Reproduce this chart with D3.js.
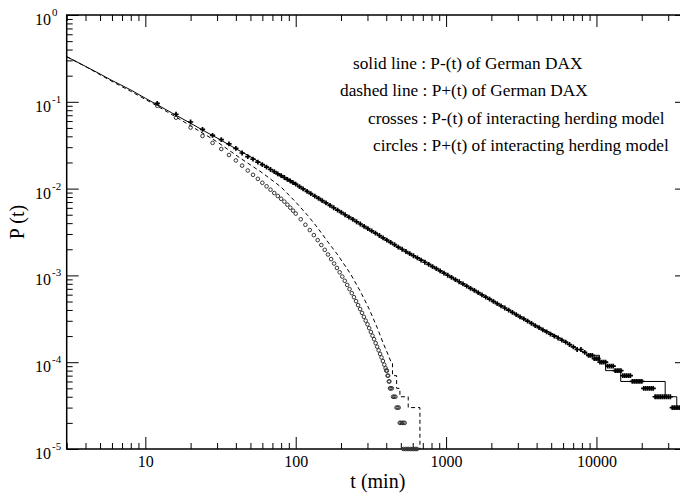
<!DOCTYPE html>
<html>
<head>
<meta charset="utf-8">
<script src="https://cdn.jsdelivr.net/npm/d3@7"></script>
<style>
    body { margin: 0; background: #fff; }
</style>
</head>
<body>
<div id="chart"></div>
<script>
'use strict';

// solid line : P-(t) of German DAX
const solidT = [3, 4, 5, 6, 8, 10, 12, 15, 20, 25, 30, 40, 50, 60, 70, 85, 100, 120, 150, 200,
    250, 300, 400, 500, 700, 1000, 1500, 2000, 3000, 4000, 4500, 5000, 5500, 6000, 7000, 8000,
    8640, 8640, 10470, 10470, 11500, 11500, 14500, 14500, 28640, 28640, 34200, 34200, 40000];
const solidP = [0.331, 0.256, 0.209, 0.176, 0.137, 0.110, 0.0925, 0.0745, 0.0566, 0.0455,
    0.0383, 0.0288, 0.0233, 0.0192, 0.0163, 0.0133, 0.01122, 9.25e-3, 7.29e-3, 5.36e-3,
    4.25e-3, 3.48e-3, 2.57e-3, 2.02e-3, 1.49e-3, 1.03e-3, 6.9e-4, 5.19e-4, 3.46e-4, 2.6e-4,
    2.35e-4, 2.16e-4, 1.98e-4, 1.78e-4, 1.5e-4, 1.34e-4, 1.26e-4, 1.2e-4, 1.2e-4, 1e-4,
    1e-4, 8e-5, 8e-5, 6e-5, 6e-5, 4e-5, 4e-5, 3e-5, 3e-5];

// dashed line : P+(t) of German DAX
const dashedT = [3, 4, 6, 8, 12, 16, 20, 30, 43, 60, 80, 100, 120, 140, 160, 190, 230, 270, 310,
    350, 382, 410, 434, 440, 440, 469, 469, 493, 493, 560, 560, 670, 670];
const dashedP = [0.331, 0.255, 0.172, 0.132, 0.0895, 0.0668, 0.0528, 0.0346, 0.0223, 0.0152,
    0.0104, 7.0e-3, 4.92e-3, 3.53e-3, 2.56e-3, 1.73e-3, 1.06e-3, 6.48e-4, 4.0e-4, 2.45e-4,
    1.65e-4, 1.24e-4, 9.7e-5, 9.7e-5, 7e-5, 7e-5, 5e-5, 5e-5, 4e-5, 4e-5, 3e-5, 3e-5, 1e-5];

// crosses : P-(t) of interacting herding model
const crossT = [12, 16, 20, 24, 28, 32, 36, 40, 44, 48, 52, 56, 60, 64, 68, 72, 76, 80, 84, 88, 92, 96, 100,
    106, 112, 119, 126, 134, 142, 150, 159, 169, 179, 190, 201, 213, 226, 240, 254, 269, 285, 302,
    320, 339, 360, 381, 404, 428, 454, 481, 510, 541, 573, 607, 644, 682, 723, 767, 813, 861, 913,
    968, 1026, 1087, 1153, 1222, 1295, 1373, 1455, 1542, 1635, 1733, 1837, 1947, 2064, 2188, 2319,
    2458, 2606, 2762, 2928, 3104, 3290, 3487, 3697, 3918, 4153, 4403, 4667, 4947, 5243, 5558, 5891,
    6245, 6620, 7017, 7438, 7884, 8357, 8858, 9120, 9390, 9670, 9953, 10250, 10550, 10860, 11180,
    11510, 11850, 12200, 12560, 12930, 13320, 13730, 14120, 14550, 14960, 15420, 15860, 16340,
    16810, 17320, 17820, 18350, 18890, 19450, 20020, 20610, 21220, 21850, 22500, 23170, 23850,
    24550, 25280, 26030, 26790, 27590, 28400, 29240, 30100, 31000, 31910, 32860, 33830, 34830, 35860];
const crossP = [0.0958, 0.0719, 0.0585, 0.0480, 0.0411, 0.0366, 0.0327, 0.0290, 0.0257, 0.0233,
    0.0219, 0.0202, 0.0189, 0.0177, 0.0166, 0.01565, 0.0148, 0.0141, 0.01342, 0.0128, 0.01225,
    0.01172, 0.01125,
    1.052e-2, 9.91e-3, 9.29e-3, 8.73e-3, 8.21e-3, 7.71e-3, 7.27e-3, 6.83e-3, 6.40e-3, 6.02e-3,
    5.65e-3, 5.32e-3, 5.00e-3, 4.70e-3, 4.41e-3, 4.15e-3, 3.91e-3, 3.68e-3, 3.46e-3, 3.26e-3,
    3.07e-3, 2.88e-3, 2.71e-3, 2.55e-3, 2.40e-3, 2.26e-3, 2.12e-3, 2.00e-3, 1.885e-3, 1.78e-3,
    1.684e-3, 1.589e-3, 1.50e-3, 1.418e-3, 1.338e-3, 1.263e-3, 1.194e-3, 1.127e-3, 1.064e-3,
    1.004e-3, 9.48e-4, 8.94e-4, 8.45e-4, 7.97e-4, 7.52e-4, 7.10e-4, 6.71e-4, 6.32e-4, 5.97e-4,
    5.63e-4, 5.32e-4, 5.01e-4, 4.73e-4, 4.46e-4, 4.21e-4, 3.97e-4, 3.75e-4, 3.53e-4, 3.33e-4,
    3.15e-4, 2.97e-4, 2.80e-4, 2.64e-4, 2.50e-4, 2.36e-4, 2.23e-4, 2.11e-4, 2.0e-4, 1.9e-4,
    1.8e-4, 1.7e-4, 1.6e-4, 1.5e-4, 1.4e-4, 1.4e-4, 1.3e-4, 1.2e-4, 1.2e-4, 1.2e-4, 1.1e-4,
    1.1e-4, 1.1e-4, 1.0e-4, 1.0e-4, 1.0e-4, 1.0e-4, 9e-5, 9e-5, 9e-5, 9e-5, 8e-5, 8e-5, 8e-5,
    8e-5, 7e-5, 7e-5, 7e-5, 7e-5, 7e-5, 6e-5, 6e-5, 6e-5, 6e-5, 6e-5, 6e-5, 5e-5, 5e-5, 5e-5,
    5e-5, 5e-5, 5e-5, 4e-5, 4e-5, 4e-5, 4e-5, 4e-5, 4e-5, 4e-5, 4e-5, 4e-5, 3e-5, 3e-5, 3e-5,
    3e-5, 3e-5];

// circles : P+(t) of interacting herding model
const circleT = [12, 16, 20, 24, 28, 32, 36, 40, 44, 48, 52, 56, 60, 64, 68, 72, 76, 80, 84, 88, 92, 96, 100,
    108, 116, 124, 132, 140, 148, 156, 164, 172, 180, 188, 196, 204, 212, 220, 228, 236, 244, 252,
    260, 268, 276, 284, 292, 300, 308, 316, 324, 332, 340, 348, 356, 364, 372, 380, 388, 396,
    400, 404, 408, 412, 416, 420, 424, 428, 436, 444, 452, 460, 468, 476, 484, 492, 500, 510, 520, 530,
    520, 535, 550, 565, 580, 595, 610, 625, 640];
const circleP = [0.090, 0.0656, 0.0505, 0.0404, 0.0336, 0.0286, 0.0244, 0.0211, 0.0184, 0.01615,
    0.01442, 0.01295, 0.01167, 0.01063, 0.00971, 0.00889, 0.00822, 0.00763, 0.00708, 0.00653,
    0.00603, 0.00557, 0.00515,
    4.43e-3, 3.83e-3, 3.33e-3, 2.91e-3, 2.55e-3, 2.24e-3, 1.97e-3, 1.74e-3, 1.54e-3, 1.37e-3,
    1.218e-3, 1.086e-3, 9.69e-4, 8.67e-4, 7.76e-4, 6.95e-4, 6.24e-4, 5.61e-4, 5.05e-4, 4.54e-4,
    4.09e-4, 3.70e-4, 3.33e-4, 3.01e-4, 2.73e-4, 2.47e-4, 2.23e-4, 2.02e-4, 1.84e-4, 1.66e-4,
    1.51e-4, 1.37e-4, 1.245e-4, 1.134e-4, 1.031e-4, 9.38e-5, 8.54e-5,
    8e-5, 8e-5, 7e-5, 7e-5, 6e-5, 6e-5, 5e-5, 5e-5, 5e-5, 4e-5, 4e-5, 4e-5, 3e-5, 3e-5, 3e-5,
    2e-5, 2e-5, 2e-5, 2e-5, 2e-5,
    1e-5, 1e-5, 1e-5, 1e-5, 1e-5, 1e-5, 1e-5, 1e-5, 1e-5];

const xMajorTicks = [10, 100, 1000, 10000];
const yMajorTicks = [1, 1e-1, 1e-2, 1e-3, 1e-4, 1e-5];
const yTickExp = ['0', '-1', '-2', '-3', '-4', '-5'];

const legendLines = [
    'solid line : P-(t) of German DAX',
    'dashed line : P+(t) of German DAX',
    'crosses : P-(t) of interacting herding model',
    'circles : P+(t) of interacting herding model'
];

const width = 680, height = 496;
const plot = { left: 66.7, right: 687, top: 15, bottom: 449 };
const serif = '"Liberation Serif", "Times New Roman", "DejaVu Serif", serif';

const svg = d3.select('#chart')
    .append('svg')
    .attr('width', width)
    .attr('height', height)
    .attr('font-family', serif)
    .style('display', 'block');

const x = d3.scaleLog().domain([3, 40000]).range([plot.left, plot.right]);
const y = d3.scaleLog().domain([1e-5, 1]).range([plot.bottom, plot.top]);

const isMajor = (list, v) => list.some(m => Math.abs(Math.log10(m) - Math.log10(v)) < 1e-6);
const xMinor = x.ticks().filter(v => !isMajor(xMajorTicks, v));
const yMinor = y.ticks().filter(v => !isMajor(yMajorTicks, v));

function ticks(axis, pos, values, size) {
    const g = svg.append('g')
        .attr('transform', pos)
        .call(axis.tickValues(values).tickSize(size).tickSizeOuter(0));
    g.select('.domain').remove();
    g.attr('font-family', serif);
    g.selectAll('line').attr('stroke', '#000').attr('stroke-width', 1);
    return g;
}

// ticks point inwards on all four sides
ticks(d3.axisBottom(x).tickFormat(''), `translate(0,${plot.bottom})`, xMinor, -6);
const xg = ticks(d3.axisBottom(x).tickFormat(d3.format('d')).tickPadding(6.5),
    `translate(0,${plot.bottom})`, xMajorTicks, -12);
xg.selectAll('text')
    .attr('font-family', serif)
    .attr('font-size', 16)
    .attr('fill', '#000');

ticks(d3.axisTop(x).tickFormat(''), `translate(0,${plot.top})`, xMinor, -6);
ticks(d3.axisTop(x).tickFormat(''), `translate(0,${plot.top})`, xMajorTicks, -12);
ticks(d3.axisLeft(y).tickFormat(''), `translate(${plot.left},0)`, yMinor, -6);
ticks(d3.axisLeft(y).tickFormat(''), `translate(${plot.left},0)`, yMajorTicks, -12);
ticks(d3.axisRight(y).tickFormat(''), `translate(${plot.right},0)`, yMinor, -6);
ticks(d3.axisRight(y).tickFormat(''), `translate(${plot.right},0)`, yMajorTicks, -12);

// frame
svg.append('rect')
    .attr('x', plot.left)
    .attr('y', plot.top)
    .attr('width', plot.right - plot.left)
    .attr('height', plot.bottom - plot.top)
    .attr('fill', 'none')
    .attr('stroke', '#000')
    .attr('stroke-width', 1.5);

// y tick labels 10^n
yMajorTicks.forEach((v, i) => {
    const t = svg.append('text')
        .attr('x', 35)
        .attr('y', y(v) + 10)
        .attr('font-family', serif)
        .attr('font-size', 16);
    t.append('tspan').text('10');
    t.append('tspan')
        .attr('dx', 1)
        .attr('dy', -9)
        .attr('font-size', 11)
        .text(yTickExp[i]);
});

// axis titles
svg.append('text')
    .attr('x', (plot.left + plot.right) / 2 + 1)
    .attr('y', 488)
    .attr('text-anchor', 'middle')
    .attr('font-family', serif)
    .attr('font-size', 20)
    .text('t (min)');

svg.append('text')
    .attr('transform', 'translate(24,222) rotate(-90)')
    .attr('text-anchor', 'middle')
    .attr('font-family', serif)
    .attr('font-size', 20)
    .text('P (t)');

// data
const line = d3.line()
    .x(d => x(d[0]))
    .y(d => y(d[1]));

svg.append('path')
    .datum(d3.zip(dashedT, dashedP))
    .attr('d', line)
    .attr('fill', 'none')
    .attr('stroke', '#000')
    .attr('stroke-width', 1)
    .attr('stroke-dasharray', '4,3');

svg.append('g')
    .selectAll('circle')
    .data(d3.zip(circleT, circleP))
    .join('circle')
    .attr('cx', d => x(d[0]))
    .attr('cy', d => y(d[1]))
    .attr('r', 1.8)
    .attr('fill', 'none')
    .attr('stroke', '#333')
    .attr('stroke-width', 1);

svg.append('g')
    .selectAll('path')
    .data(d3.zip(crossT, crossP))
    .join('path')
    .attr('transform', d => `translate(${x(d[0])},${y(d[1])})`)
    .attr('d', 'M-2.6,0H2.6M0,-2.4V2.4')
    .attr('stroke', '#000')
    .attr('stroke-width', 1.7);

svg.append('path')
    .datum(d3.zip(solidT, solidP))
    .attr('d', line)
    .attr('fill', 'none')
    .attr('stroke', '#000')
    .attr('stroke-width', 1);

// legend texts
const legendX = [353, 340, 368, 373];
legendLines.forEach((s, i) => {
    svg.append('text')
        .attr('x', legendX[i])
        .attr('y', 68.5 + i * 27.5)
        .attr('font-family', serif)
        .attr('font-size', 17.3)
        .text(s);
});
</script>
</body>
</html>
